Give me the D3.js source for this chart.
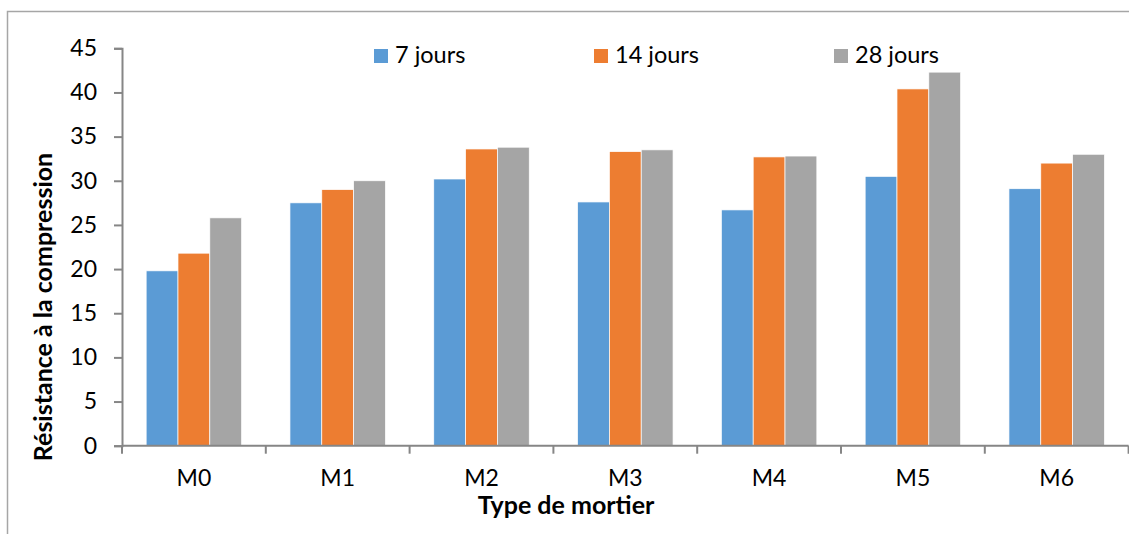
<!DOCTYPE html>
<meta charset="utf-8">
<style>
  body { margin: 0; background: #fff; }
  svg text { font-family: Lato, "Open Sans", sans-serif; fill: #000; }
  .axis path, .axis line { stroke: #868686; stroke-width: 2px; }
  .axis text { font-size: 23px; }
  .title { font-size: 25px; font-weight: bold; }
  .legend text { font-size: 23.5px; }
</style>
<svg width="1129" height="534"></svg>
<script src="https://d3js.org/d3.v7.min.js"></script>
<script>

var categories = ["M0", "M1", "M2", "M3", "M4", "M5", "M6"];
var seriesNames = ["7 jours", "14 jours", "28 jours"];
var jours7  = [19.8, 27.5, 30.2, 27.6, 26.7, 30.5, 29.1];
var jours14 = [21.8, 29.0, 33.6, 33.3, 32.7, 40.4, 32.0];
var jours28 = [25.8, 30.0, 33.8, 33.5, 32.8, 42.3, 33.0];
var yTicks = [0, 5, 10, 15, 20, 25, 30, 35, 40, 45];
var colors = ["#5b9bd5", "#ed7d31", "#a5a5a5"];

var series = [jours7, jours14, jours28];

var svg = d3.select("svg");

// frame of the chart area (only top and left edges visible)
svg.append("path")
    .attr("d", "M7.5,534V11.5H1129")
    .attr("fill", "none")
    .attr("stroke", "#a6a6a6")
    .attr("stroke-width", 1.5);

var plotLeft = 122, plotRight = 1128.6, plotTop = 48.3, plotBottom = 445.7;

var x0 = d3.scaleBand()
    .domain(categories)
    .range([plotLeft, plotRight]);

var x1 = d3.scaleBand()
    .domain(d3.range(seriesNames.length))
    .range([x0.bandwidth() * 0.168, x0.bandwidth() * 0.832]);

var y = d3.scaleLinear()
    .domain([0, 45])
    .range([plotBottom, plotTop]);

// bars
var groups = svg.append("g")
  .selectAll("g")
  .data(categories)
  .enter().append("g")
    .attr("transform", function(d) { return "translate(" + x0(d) + ",0)"; });

groups.selectAll("rect")
  .data(function(d, i) { return series.map(function(s, k) { return {k: k, v: s[i]}; }); })
  .enter().append("rect")
    .attr("x", function(d) { return x1(d.k); })
    .attr("width", x1.bandwidth())
    .attr("y", function(d) { return y(d.v); })
    .attr("height", function(d) { return plotBottom - y(d.v); })
    .attr("fill", function(d) { return colors[d.k]; })
    .attr("stroke", "#fff")
    .attr("stroke-width", 0.7);

// y axis
svg.append("g")
    .attr("class", "axis")
    .attr("transform", "translate(" + plotLeft + ",0)")
    .call(d3.axisLeft(y).tickValues(yTicks).tickSize(8).tickSizeOuter(8).tickPadding(17));

// x axis with ticks at band edges
var xAxis = svg.append("g")
    .attr("class", "axis")
    .attr("transform", "translate(0," + plotBottom + ")")
    .call(d3.axisBottom(x0).tickSize(0).tickSizeOuter(0).tickPadding(24));
xAxis.select(".domain").attr("d", "M" + plotLeft + ",0H" + plotRight);
xAxis.selectAll(".edge")
  .data(categories.map(function(c) { return x0(c); }).concat([plotRight]))
  .enter().append("line")
    .attr("class", "edge")
    .attr("x1", function(d) { return d; })
    .attr("x2", function(d) { return d; })
    .attr("y1", 0)
    .attr("y2", 8);

// axis titles
svg.append("text")
    .attr("class", "title")
    .attr("transform", "translate(52,307) rotate(-90)")
    .attr("text-anchor", "middle")
    .text("Résistance à la compression");

svg.append("text")
    .attr("class", "title")
    .attr("x", 566)
    .attr("y", 514)
    .attr("text-anchor", "middle")
    .text("Type de mortier");

// legend
var legendX = [374, 594, 834];
var legend = svg.append("g")
    .attr("class", "legend")
  .selectAll("g")
  .data(seriesNames)
  .enter().append("g")
    .attr("transform", function(d, i) { return "translate(" + legendX[i] + ",49)"; });

legend.append("rect")
    .attr("width", 14)
    .attr("height", 14)
    .attr("fill", function(d, i) { return colors[i]; });

legend.append("text")
    .attr("x", 21)
    .attr("y", 14)
    .text(function(d) { return d; });

</script>
